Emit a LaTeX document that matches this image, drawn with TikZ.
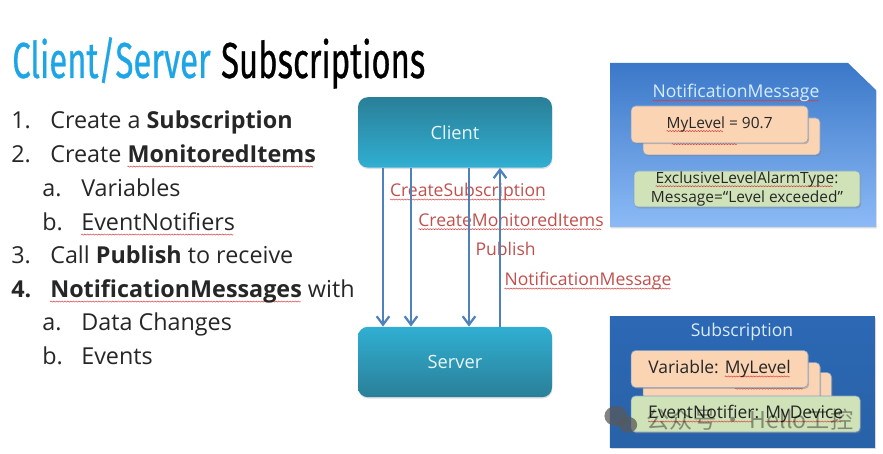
\documentclass[tikz,border=0pt]{standalone}
\usepackage{fontspec}
\usetikzlibrary{arrows.meta,shadows,shapes.geometric,decorations.pathmorphing}
\setmainfont{Open Sans}
\newfontfamily\titlefont[FakeStretch=0.65,FakeBold=0.5]{Fira Sans}
\newfontfamily\cjkfont{Noto Sans CJK SC}
\definecolor{titleblue}{RGB}{30,165,230}
\definecolor{tealdark}{RGB}{42,127,152}
\definecolor{teallight}{RGB}{48,175,210}
\definecolor{callblue}{RGB}{79,129,189}
\definecolor{msgred}{RGB}{192,80,77}
\definecolor{squigred}{RGB}{214,60,60}
\definecolor{peach}{RGB}{251,212,180}
\definecolor{leaf}{RGB}{208,226,184}
\definecolor{nmtop}{RGB}{58,120,200}
\definecolor{nmmid}{RGB}{100,152,226}
\definecolor{nmbot}{RGB}{140,186,246}
\definecolor{subtop}{RGB}{44,104,180}
\definecolor{submid}{RGB}{62,132,212}
\definecolor{subbot}{RGB}{40,98,168}
\definecolor{paneltext}{RGB}{216,236,255}
\newsavebox{\splbox}
\newsavebox{\wavebox}
\newcommand{\spl}[1]{\leavevmode\sbox{\splbox}{#1}\rlap{\lower.17em\hbox to\wd\splbox{\leaders\copy\wavebox\hfill}}\usebox{\splbox}}
\tikzset{
  heading/.style={anchor=base west,inner sep=0pt,font=\titlefont\fontsize{36}{40}\selectfont},
  item/.style={anchor=base west,inner sep=0pt,font=\fontsize{16.6}{20}\selectfont,text=black!85},
  host/.style={draw=none,rounded corners=7pt,minimum width=4.85cm,minimum height=1.76cm,text=white!90!teallight,font=\fontsize{13}{15}\selectfont,drop shadow={opacity=.25,shadow xshift=.3pt,shadow yshift=-1pt}},
  msg/.style={text=msgred,inner sep=0pt,font=\fontsize{12.5}{15}\selectfont},
  callline/.style={draw=callblue,line width=1.6pt,-{Straight Barb[length=6pt,width=9pt]}},
  panelshadow/.style={drop shadow={opacity=.3,shadow xshift=.5pt,shadow yshift=-1pt}},
  paneltitle/.style={text=paneltext,inner sep=0pt,font=\fontsize{12.5}{15}\selectfont},
  card/.style={draw=callblue!70,fill=peach,rounded corners=3pt,minimum width=4.42cm,minimum height=.92cm,text=black!85,drop shadow={opacity=.45,shadow xshift=.8pt,shadow yshift=-1pt}},
  greencard/.style={card,fill=leaf,align=center,inner sep=0pt},
  nmcard/.style={font=\fontsize{11}{13.4}\selectfont},
  subcard/.style={font=\fontsize{12.4}{15}\selectfont},
  squig/.style={draw=squigred,line width=.35pt,decorate,decoration={snake,amplitude=.4pt,segment length=2pt}},
}

\begin{document}
\begin{tikzpicture}
\sbox{\wavebox}{\tikz{\useasboundingbox (0,0) rectangle (2pt,0pt);
  \draw[squigred,line width=.35pt] (0,0) sin (.5pt,.4pt) cos (1pt,0) sin (1.5pt,-.4pt) cos (2pt,0);}}
\useasboundingbox (0,0) rectangle (22.075,-11.35);
% title
\node[heading,text=titleblue] (title1) at (0.30,-1.95) {Client/Server};
\node[heading] (title2) at (5.52,-1.95) {Subscriptions};
% list
\node[item] (num1) at (0.275,-3.215) {1.};
\node[item] (txt1) at (1.25,-3.215) {Create a \textbf{Subscription}};
\node[item] (num2) at (0.275,-4.065) {2.};
\node[item] (txt2) at (1.25,-4.065) {Create \textbf{\spl{MonitoredItems}}};
\node[item] (num2a) at (1.05,-4.915) {a.};
\node[item] (txt2a) at (2.025,-4.915) {Variables};
\node[item] (num2b) at (1.05,-5.765) {b.};
\node[item] (txt2b) at (2.025,-5.765) {\spl{EventNotifiers}};
\node[item] (num3) at (0.275,-6.59) {3.};
\node[item] (txt3) at (1.25,-6.59) {Call \textbf{Publish} to receive};
\node[item] (num4) at (0.275,-7.44) {\textbf{4.}};
\node[item] (txt4) at (1.25,-7.44) {\textbf{\spl{NotificationMessages}} with};
\node[item] (num4a) at (1.05,-8.265) {a.};
\node[item] (txt4a) at (2.025,-8.265) {Data Changes};
\node[item] (num4b) at (1.05,-9.115) {b.};
\node[item] (txt4b) at (2.025,-9.115) {Events};
% client and server
\node[host,top color=tealdark,bottom color=teallight] (client) at (11.375,-3.31) {Client};
\node[host,top color=teallight,bottom color=tealdark] (server) at (11.375,-9.05) {Server};
\node[msg] (lblsub) at (11.70,-4.80) {\spl{CreateSubscription}};
\node[msg] (lblmon) at (12.775,-5.525) {\spl{CreateMonitoredItems}};
\node[msg] (lblpub) at (12.64,-6.225) {Publish};
\node[msg] (lblnot) at (14.70,-7.025) {\spl{NotificationMessage}};
\draw[callline] ([xshift=-1.80cm]client.south) -- ([xshift=-1.80cm]server.north);
\draw[callline] ([xshift=-1.10cm]client.south) -- ([xshift=-1.10cm]server.north);
\draw[callline] ([xshift=.35cm]client.south) -- ([xshift=.35cm]server.north);
\draw[callline] ([xshift=1.125cm]server.north) -- ([xshift=1.125cm]client.south);
% notification panel
\path[panelshadow,top color=nmtop,middle color=nmmid,bottom color=nmbot] (15.25,-1.575) -- (21.20,-1.575) -- (21.90,-2.25) -- (21.90,-5.675) -- (15.25,-5.675) -- cycle;
\node[paneltitle] (nmtitle) at (18.40,-2.325) {\spl{NotificationMessage}};
\node[card] (nmback) at (18.29,-3.41) {};
\draw[squig] ([xshift=.72cm,yshift=.275cm]nmback.south west) -- ([xshift=2.35cm,yshift=.275cm]nmback.south west);
\node[card,nmcard] (nmfront) at (17.99,-3.11) {\spl{MyLevel} = 90.7};
\node[greencard,nmcard,minimum width=5.65cm,minimum height=.90cm] (nmgreen) at (18.675,-4.725) {\spl{ExclusiveLevelAlarmType}:\\Message=“Level exceeded”};
% subscription panel
\node[panelshadow,rectangle,minimum width=6.625cm,minimum height=3.275cm,inner sep=0pt,top color=subtop,middle color=submid,bottom color=subbot] (subpanel) at (18.56,-9.54) {};
\node[paneltitle] (subtitle) at (18.55,-8.30) {Subscription};
\node[card] (subback2) at (18.575,-9.775) {};
\node[card] (subback1) at (18.29,-9.525) {};
\draw[squig] ([xshift=2.3cm,yshift=.275cm]subback1.south west) -- ([xshift=4.0cm,yshift=.275cm]subback1.south west);
\node[card,subcard] (subfront) at (17.99,-9.225) {Variable: \spl{MyLevel}};
\node[greencard,subcard,minimum width=5.725cm,minimum height=.90cm] (subgreen) at (18.64,-10.35) {\spl{EventNotifier}: \spl{MyDevice}};
% watermark
\node[ellipse,fill=black!65,opacity=.75,minimum width=.58cm,minimum height=.50cm,inner sep=0pt] (wxbig) at (15.40,-10.40) {};
\node[ellipse,fill=black!65,opacity=.75,minimum width=.46cm,minimum height=.40cm,inner sep=0pt] (wxsmall) at (15.70,-10.62) {};
\node[inner sep=0pt,text=black,opacity=.38,font=\cjkfont\fontsize{16.5}{18}\selectfont] (mark) at (18.75,-10.50) {公众号 · Hello工控};
\end{tikzpicture}
\end{document}
